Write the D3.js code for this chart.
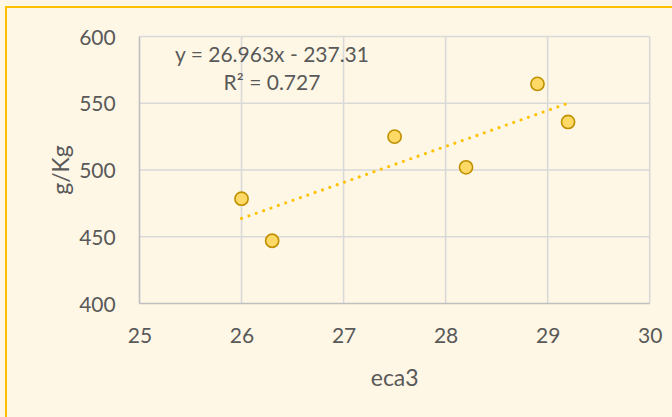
<!DOCTYPE html>
<html>
<head>
<meta charset="utf-8">
<script src="https://cdn.jsdelivr.net/npm/d3@7"></script>
<style>
  html, body { margin: 0; padding: 0; background: #FFF7E5; }
  svg { display: block; }
  text { font-family: Lato, "Open Sans", sans-serif; fill: #595959; }
</style>
</head>
<body>
<svg id="chart" width="672" height="417"></svg>
<script>
// eca3 vs g/Kg observations
const ecaValues = [26.0, 26.3, 27.5, 28.2, 28.9, 29.2];
const gkgValues = [478.5, 447, 525, 502, 564.5, 536];

// axis ticks
const xTicks = [25, 26, 27, 28, 29, 30];
const yTicks = [400, 450, 500, 550, 600];

// linear trendline as stated in the equation label
const slope = 26.963;
const intercept = -237.31;
const rSquared = 0.727;

const svg = d3.select("#chart");
const W = 672, H = 417;

// chart area background and border
svg.append("rect").attr("x", 0).attr("y", 0).attr("width", W).attr("height", H).attr("fill", "#FFF7E5");
svg.append("rect")
  .attr("x", 6).attr("y", 7).attr("width", W + 10).attr("height", H + 10)
  .attr("fill", "#FFF7E5").attr("stroke", "#FFC000").attr("stroke-width", 2);

const x = d3.scaleLinear().domain([25, 30]).range([139.5, 649.7]);
const y = d3.scaleLinear().domain([400, 600]).range([303.5, 36.5]);

// gridlines
const grid = svg.append("g");
grid.selectAll("line.v").data(xTicks.slice(1)).join("line")
  .attr("x1", d => x(d)).attr("x2", d => x(d))
  .attr("y1", y(400)).attr("y2", y(600))
  .attr("stroke", "#D9D9D9").attr("stroke-width", 1.6);
grid.selectAll("line.h").data(yTicks.slice(1)).join("line")
  .attr("x1", x(25)).attr("x2", x(30))
  .attr("y1", d => y(d)).attr("y2", d => y(d))
  .attr("stroke", "#D9D9D9").attr("stroke-width", 1.6);

// axis lines
svg.append("line").attr("x1", x(25)).attr("x2", x(25)).attr("y1", y(400)).attr("y2", y(600))
  .attr("stroke", "#BFBFBF").attr("stroke-width", 1.6);
svg.append("line").attr("x1", x(25)).attr("x2", x(30)).attr("y1", y(400)).attr("y2", y(400))
  .attr("stroke", "#BFBFBF").attr("stroke-width", 1.6);

// tick labels through d3 axes
const xAxis = svg.append("g")
  .attr("transform", `translate(0,${y(400)})`)
  .call(d3.axisBottom(x).tickValues(xTicks).tickSize(0).tickPadding(0).tickFormat(d3.format("d")));
xAxis.select(".domain").remove();
xAxis.selectAll("text")
  .attr("y", 31.8).attr("dy", "0.36em")
  .style("font-size", "21px").style("font-family", "Lato, 'Open Sans', sans-serif").attr("fill", "#595959");

const yAxis = svg.append("g")
  .attr("transform", `translate(${x(25)},0)`)
  .call(d3.axisLeft(y).tickValues(yTicks).tickSize(0).tickPadding(0).tickFormat(d3.format("d")));
yAxis.select(".domain").remove();
yAxis.selectAll("text")
  .attr("x", -23.8).attr("dy", "0.36em")
  .style("font-size", "21px").style("font-family", "Lato, 'Open Sans', sans-serif").attr("fill", "#595959");

// axis titles
svg.append("text").attr("x", 394.7).attr("y", 377.5).attr("dy", "0.36em")
  .attr("text-anchor", "middle").style("font-size", "23px").text("eca3");
svg.append("text").attr("transform", "translate(61,170) rotate(-90)").attr("dy", "0.36em")
  .attr("text-anchor", "middle").style("font-size", "23px").text("g/Kg");

// dotted trendline over the observed eca3 range
const xr = d3.extent(ecaValues);
const trend = xr.map(v => [v, slope * v + intercept]);
svg.append("path")
  .attr("d", d3.line().x(d => x(d[0])).y(d => y(d[1]))(trend))
  .attr("fill", "none").attr("stroke", "#FFC000").attr("stroke-width", 3.2)
  .attr("stroke-linecap", "round").attr("stroke-dasharray", "0 7.8");

// scatter points
svg.append("g").selectAll("circle").data(d3.zip(ecaValues, gkgValues)).join("circle")
  .attr("cx", d => x(d[0])).attr("cy", d => y(d[1])).attr("r", 6.6)
  .attr("fill", "#FFD966").attr("stroke", "#BF9000").attr("stroke-width", 1.6);

// equation label
const eq = svg.append("text").attr("text-anchor", "middle").style("font-size", "21px");
eq.append("tspan").attr("x", 272).attr("y", 61.5)
  .text(`y = ${slope}x - ${Math.abs(intercept)}`);
eq.append("tspan").attr("x", 272).attr("y", 90)
  .text(`R² = ${rSquared}`);
</script>
</body>
</html>
